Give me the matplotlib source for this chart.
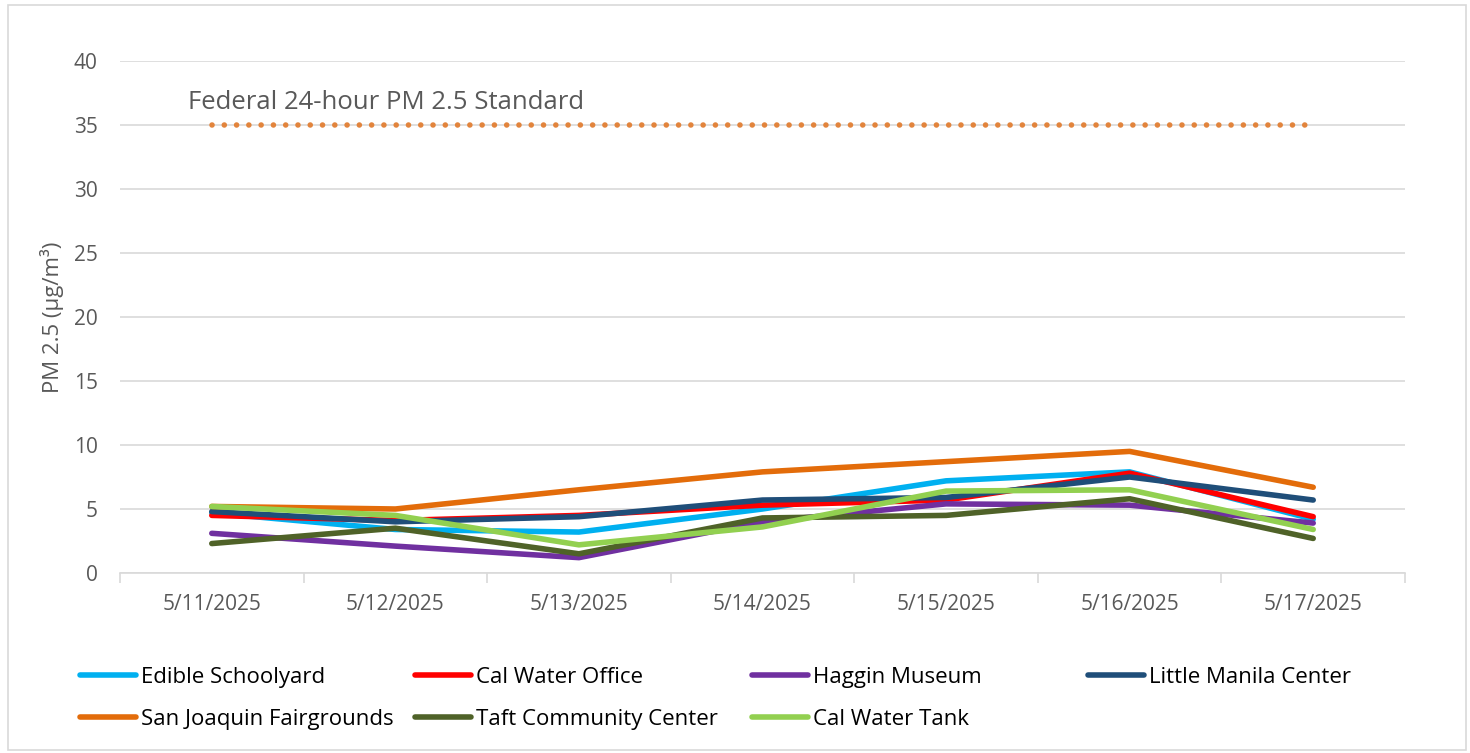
import matplotlib
matplotlib.use("Agg")
import matplotlib.pyplot as plt
from matplotlib.lines import Line2D
from matplotlib.patches import Rectangle

dates = ["5/11/2025", "5/12/2025", "5/13/2025", "5/14/2025", "5/15/2025", "5/16/2025", "5/17/2025"]

edible_schoolyard = [4.7, 3.4, 3.2, 5.0, 7.2, 7.9, 4.2]
cal_water_office = [4.5, 4.1, 4.5, 5.3, 5.7, 7.8, 4.4]
haggin_museum = [3.1, 2.1, 1.2, 4.0, 5.4, 5.3, 3.9]
little_manila = [4.8, 4.0, 4.4, 5.7, 5.9, 7.5, 5.7]
sj_fairgrounds = [5.2, 5.0, 6.5, 7.9, 8.7, 9.5, 6.7]
taft_center = [2.3, 3.5, 1.5, 4.3, 4.5, 5.8, 2.7]
cal_water_tank = [5.2, 4.5, 2.2, 3.6, 6.4, 6.5, 3.4]

standard_value = 35
standard_label = "Federal 24-hour PM 2.5 Standard"

series = [
    ("Edible Schoolyard", edible_schoolyard, "#00B0F0"),
    ("Cal Water Office", cal_water_office, "#FF0000"),
    ("Haggin Museum", haggin_museum, "#7030A0"),
    ("Little Manila Center", little_manila, "#1F4E79"),
    ("San Joaquin Fairgrounds", sj_fairgrounds, "#E36C0A"),
    ("Taft Community Center", taft_center, "#4F6228"),
    ("Cal Water Tank", cal_water_tank, "#92D050"),
]

plt.rcParams['font.family'] = ['Open Sans', 'DejaVu Sans']

fig = plt.figure(figsize=(14.7, 7.53), dpi=100)
fig.patches.append(Rectangle((8/1470, 3/753), 1458/1470, 745/753, transform=fig.transFigure,
                             fill=False, edgecolor="#D9D9D9", linewidth=1.2))

ax = fig.add_axes([120/1470, 1 - 573/753, (1405 - 120)/1470, (573 - 61)/753])
x = list(range(len(dates)))

ax.plot([x[0], x[-1]], [standard_value, standard_value], color="#E2843C", lw=4.0,
        linestyle=(0, (0.01, 2.2)), dash_capstyle="round", solid_capstyle="round", zorder=3)
ax.text(-0.13, 36.75, standard_label, fontsize=18.5, color="#595959", ha="left", va="center")

for name, vals, col in series:
    ax.plot(x, vals, color=col, lw=4.0, solid_capstyle="round", solid_joinstyle="round",
            label=name, zorder=4)

ax.set_xlim(-0.5, len(dates) - 0.5)
ax.set_ylim(0, 40)
ax.set_yticks(range(0, 41, 5))
ax.yaxis.grid(True, color="#D9D9D9", lw=1.2)
ax.set_axisbelow(True)
for s in ["top", "right", "left"]:
    ax.spines[s].set_visible(False)
ax.spines["bottom"].set_color("#D9D9D9")
ax.spines["bottom"].set_linewidth(1.2)
ax.tick_params(axis="y", length=0, labelsize=15, labelcolor="#595959", pad=16)
ax.set_xticks(x)
ax.set_xticklabels(dates)
ax.tick_params(axis="x", which="major", length=0, labelsize=15, labelcolor="#595959", pad=15)
ax.set_xticks([i - 0.5 for i in range(len(dates) + 1)], minor=True)
ax.tick_params(axis="x", which="minor", length=7, color="#D9D9D9", width=1.2)
ax.set_ylabel("PM 2.5 (µg/m³)", fontsize=16, color="#595959", labelpad=7)

col_x = [80, 415, 752, 1088]
groups = [[0, 4], [1, 5], [2, 6], [3]]
for cx, grp in zip(col_x, groups):
    hs = [Line2D([0], [0], color=series[i][2], lw=4.0, solid_capstyle="round") for i in grp]
    ls = [series[i][0] for i in grp]
    fig.legend(hs, ls, loc="upper left", bbox_to_anchor=(cx/1470, 1 - 667/753),
               frameon=False, fontsize=16, handlelength=2.5, handletextpad=0.23,
               labelspacing=0.95, borderaxespad=0, borderpad=0, labelcolor="#000000")

fig.savefig("out.png", dpi=100)
